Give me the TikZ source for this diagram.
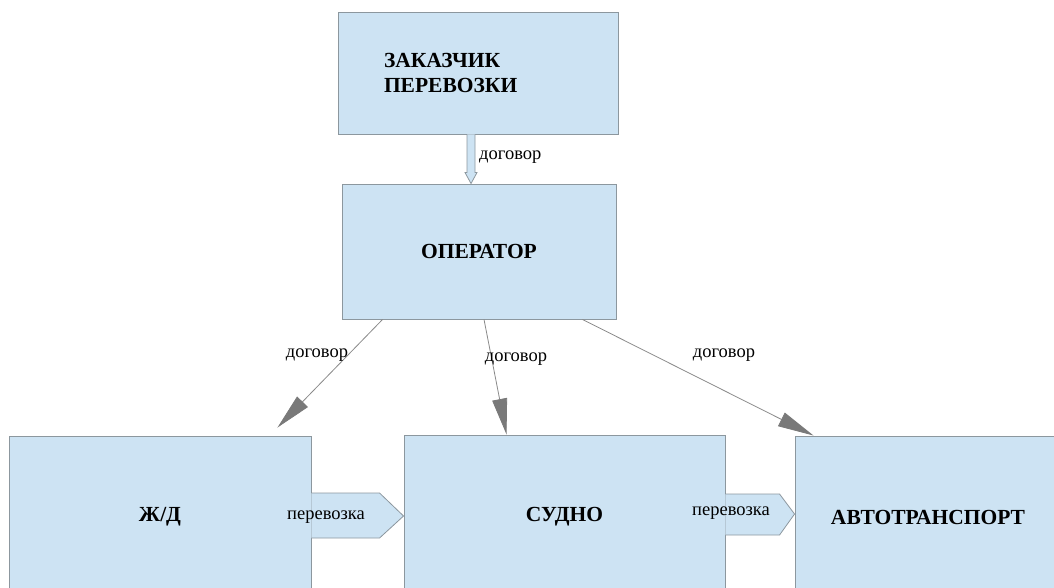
\documentclass[tikz,border=0pt]{standalone}
\usepackage{fontspec}
\setmainfont{Liberation Serif}
\usetikzlibrary{positioning, arrows.meta, calc}

\definecolor{boxfill}{HTML}{CDE3F3}
\definecolor{boxline}{HTML}{8C979E}
\definecolor{linkgray}{HTML}{8A8A8A}

\begin{document}
\begin{tikzpicture}[
    x=1pt, y=-1pt,
    block/.style={draw=boxline, fill=boxfill, line width=0.9pt, inner sep=0pt,
                  font=\fontsize{21.5}{25}\selectfont\bfseries, align=center},
    contract/.style={draw=linkgray, line width=0.8pt,
                     -{Triangle[length=36pt, width=15pt, fill=gray!95!black, color=gray!95!black]}},
    carry/.style={draw=boxline, fill=boxfill, line width=0.8pt, line join=miter},
    lbl/.style={font=\fontsize{18.5}{20}\selectfont, inner sep=0pt},
]
\useasboundingbox (0,0) rectangle (1054,588);
\clip (0,0) rectangle (1054,588);

\node[block, minimum height=122pt, text width=188pt, inner xsep=46pt, align=left]
    (customer) at (478,73) {ЗАКАЗЧИК\\ПЕРЕВОЗКИ};
\node[block, minimum width=274pt, minimum height=135pt] (operator) at (479,251.5) {ОПЕРАТОР};
\node[block, minimum width=302pt, minimum height=162pt] (zd) at (160,517) {Ж/Д};
\node[block, minimum width=321pt, minimum height=164pt] (ship) at (564.5,517) {СУДНО};
\node[block, minimum width=266pt, minimum height=162pt] (auto) at (928,517) {АВТОТРАНСПОРТ};

% contract from the customer
\coordinate (ta) at ([xshift=-7pt]customer.south);
\coordinate (tb) at ([xshift=-7pt]customer.south |- operator.north);
\draw[carry] ([xshift=-4pt]ta) -- ([xshift=-4pt, yshift=11pt]tb) -- ([xshift=-6pt, yshift=11pt]tb)
    -- (tb) -- ([xshift=6pt, yshift=11pt]tb) -- ([xshift=4pt, yshift=11pt]tb) -- ([xshift=4pt]ta);
\node[lbl, anchor=west] (c0) at (479,157) {договор};

% contracts from the operator
\draw[contract] ([xshift=41pt]operator.south west) -- ([xshift=-34pt, yshift=8pt]zd.north east);
\draw[contract] ([xshift=5pt]operator.south) -- ([xshift=103pt]ship.north west);
\draw[contract] ([xshift=-34pt]operator.south east) -- ([xshift=19pt]auto.north west);
\node[lbl] (c1) at (317,355) {договор};
\node[lbl] (c2) at (516,359) {договор};
\node[lbl] (c3) at (724,355) {договор};

% carriage
\draw[carry] ([yshift=24pt]zd.east) -- ([xshift=-24pt, yshift=24pt]ship.west) -- ([yshift=1pt]ship.west)
    -- ([xshift=-24pt, yshift=-21pt]ship.west) -- ([yshift=-21pt]zd.east);
\draw[carry] ([yshift=23pt]ship.east) -- ([xshift=-15pt, yshift=23pt]auto.west) -- ([yshift=3pt]auto.west)
    -- ([xshift=-15pt, yshift=-18pt]auto.west) -- ([yshift=-18pt]ship.east);
\node[lbl] (p1) at (326,517) {перевозка};
\node[lbl] (p2) at (731,513) {перевозка};

\end{tikzpicture}
\end{document}
